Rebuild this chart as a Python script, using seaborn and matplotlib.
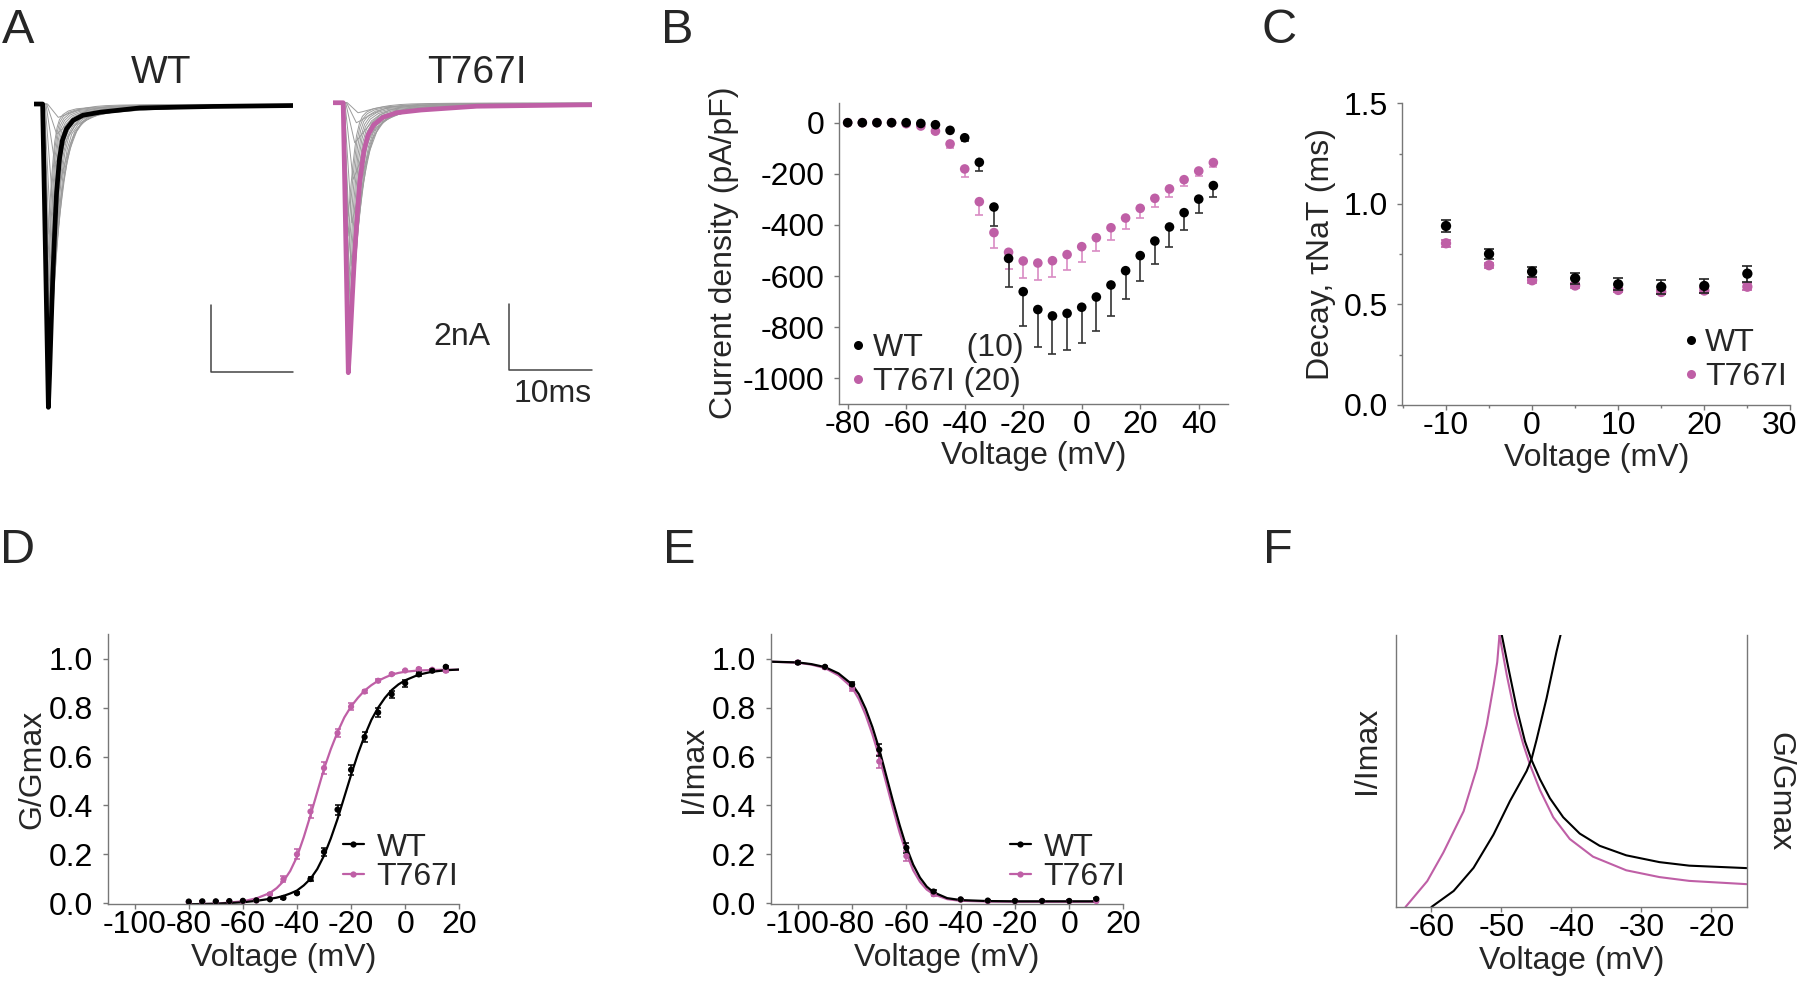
import numpy as np
import pandas as pd
import seaborn as sns
import matplotlib.pyplot as plt
from matplotlib.lines import Line2D
from matplotlib.ticker import AutoMinorLocator, FormatStrFormatter
from matplotlib.transforms import ScaledTranslation

sns.set_style("ticks")
plt.rcParams['font.family'] = ['Liberation Sans', 'DejaVu Sans']
plt.rcParams['axes.unicode_minus'] = False

PINK = '#BF5FA6'
PINK_ERR = '#D98BC4'
GREY = '#9c9c9c'
AXC = '#777777'
FS = 23

# ---------------- data ----------------
# A: current traces (ms, nA); decay profile
decay_t = [0, 0.15, 0.35, 0.55, 0.8, 1.0, 1.35, 1.7, 2.2, 3.0, 4.2, 6.3, 11.1, 20, 29.7]
decay_f = [1.0, 0.89, 0.72, 0.56, 0.40, 0.29, 0.18, 0.12, 0.082, 0.054, 0.037, 0.027, 0.013, 0.008, 0.005]

wt_main = [9.1, 1.0, 0.7, 1.0]          # peak, onset, rise, stretch
t767i_main = [8.1, 1.2, 0.62, 1.4]

wt_grey_peak = [0.4, 0.9, 1.8, 3.2, 4.6, 5.8, 6.8, 7.5, 8.0, 8.3, 8.4, 8.2, 7.8, 7.3, 6.7, 6.0, 5.3, 4.6, 3.9]
wt_grey_onset = [1.6, 1.5, 1.4, 1.3, 1.2, 1.15, 1.1, 1.1, 1.05, 1.05, 1.05, 1.05, 1.05, 1.05, 1.05, 1.05, 1.05, 1.05, 1.05]
wt_grey_rise = [1.3, 1.2, 1.1, 1.0, 0.95, 0.9, 0.85, 0.8, 0.78, 0.75, 0.72, 0.7, 0.7, 0.68, 0.66, 0.64, 0.62, 0.6, 0.6]
wt_grey_stretch = [3.4, 3.1, 2.8, 2.5, 2.2, 1.95, 1.75, 1.55, 1.4, 1.28, 1.18, 1.1, 1.04, 0.98, 0.94, 0.9, 0.87, 0.84, 0.82]

t767i_grey_peak = [0.3, 0.6, 1.2, 2.3, 3.6, 4.9, 6.0, 6.8, 7.3, 7.6, 7.7, 7.5, 7.1, 6.6, 6.0, 5.4, 4.7, 4.0, 3.4]
t767i_grey_onset = [1.7, 1.6, 1.5, 1.4, 1.3, 1.25, 1.2, 1.2, 1.2, 1.2, 1.2, 1.2, 1.2, 1.2, 1.2, 1.2, 1.2, 1.2, 1.2]
t767i_grey_rise = [1.3, 1.2, 1.1, 1.0, 0.95, 0.9, 0.85, 0.8, 0.78, 0.75, 0.72, 0.7, 0.7, 0.68, 0.66, 0.64, 0.62, 0.6, 0.6]
t767i_grey_stretch = [3.8, 3.5, 3.2, 2.9, 2.6, 2.3, 2.05, 1.85, 1.7, 1.55, 1.45, 1.38, 1.32, 1.26, 1.2, 1.15, 1.1, 1.06, 1.02]

# B: I-V
iv_v = [-80, -75, -70, -65, -60, -55, -50, -45, -40, -35, -30, -25, -20, -15, -10, -5, 0, 5, 10, 15, 20, 25, 30, 35, 40, 45]
iv_wt = [0, 0, 0, 0, 0, -3, -8, -30, -59, -155, -330, -531, -661, -731, -756, -746, -722, -682, -635, -579, -520, -463, -408, -352, -299, -246]
iv_wt_sem = [0, 0, 0, 0, 0, 2, 4, 6, 14, 34, 73, 112, 135, 146, 148, 143, 140, 132, 122, 111, 101, 89, 78, 67, 56, 45]
iv_t767i = [0, 0, 0, 0, -4, -13, -33, -83, -181, -309, -430, -507, -541, -549, -540, -516, -485, -450, -411, -373, -335, -296, -259, -223, -189, -156]
iv_t767i_sem = [0, 0, 0, 0, 1, 3, 6, 17, 33, 52, 59, 65, 68, 68, 65, 62, 59, 53, 48, 43, 39, 32, 30, 26, 20, 19]

# C: decay time constant
tau_v = [-10, -5, 0, 5, 10, 15, 20, 25]
tau_wt = [0.89, 0.751, 0.663, 0.63, 0.60, 0.587, 0.592, 0.653]
tau_wt_sem = [0.03, 0.023, 0.025, 0.028, 0.03, 0.035, 0.035, 0.04]
tau_t767i = [0.804, 0.695, 0.62, 0.594, 0.572, 0.562, 0.569, 0.588]
tau_t767i_sem = [0.018, 0.012, 0.012, 0.012, 0.012, 0.012, 0.012, 0.018]

# D: activation
gv_v = [-80, -75, -70, -65, -60, -55, -50, -45, -40, -35, -30, -25, -20, -15, -10, -5, 0, 5, 10, 15]
gv_wt = [0.007, 0.008, 0.008, 0.009, 0.01, 0.012, 0.016, 0.022, 0.041, 0.099, 0.21, 0.383, 0.546, 0.68, 0.78, 0.855, 0.90, 0.936, 0.951, 0.967]
gv_wt_sem = [0, 0, 0, 0, 0, 0, 0, 0.003, 0.005, 0.008, 0.015, 0.02, 0.02, 0.02, 0.018, 0.015, 0.015, 0.008, 0.006, 0.005]
gv_t767i = [0.005, 0.005, 0.006, 0.007, 0.008, 0.011, 0.037, 0.098, 0.2, 0.375, 0.553, 0.696, 0.804, 0.866, 0.91, 0.937, 0.952, 0.958, 0.955, 0.951]
gv_t767i_sem = [0, 0, 0, 0, 0, 0.002, 0.005, 0.012, 0.02, 0.025, 0.025, 0.015, 0.015, 0.008, 0.006, 0.005, 0.004, 0.004, 0.004, 0.004]
gfit_v = [-80, -70, -60, -55, -50, -47.5, -45, -42.5, -40, -37.5, -35, -32.5, -30, -27.5, -25, -22.5, -20, -17.5, -15, -12.5, -10, -7.5, -5, -2.5, 0, 5, 10, 15, 20]
gfit_wt = [-0.004, -0.002, 0.004, 0.01, 0.018, 0.023, 0.03, 0.04, 0.052, 0.073, 0.1, 0.14, 0.195, 0.265, 0.345, 0.435, 0.525, 0.61, 0.685, 0.75, 0.80, 0.84, 0.872, 0.895, 0.912, 0.935, 0.947, 0.953, 0.956]
gfit_t767i = [-0.004, -0.002, 0.008, 0.02, 0.042, 0.062, 0.09, 0.132, 0.19, 0.27, 0.36, 0.455, 0.55, 0.63, 0.70, 0.76, 0.805, 0.84, 0.87, 0.892, 0.91, 0.923, 0.935, 0.942, 0.947, 0.952, 0.954, 0.955, 0.955]

# E: steady-state inactivation
ss_v = [-100, -90, -80, -70, -60, -50, -40, -30, -20, -10, 0, 10]
ss_wt = [0.984, 0.967, 0.895, 0.628, 0.227, 0.048, 0.016, 0.011, 0.0095, 0.0095, 0.0095, 0.018]
ss_wt_sem = [0.005, 0.005, 0.008, 0.025, 0.02, 0.005, 0.003, 0.002, 0.002, 0.002, 0.002, 0.003]
ss_t767i = [0.985, 0.965, 0.879, 0.58, 0.193, 0.037, 0.014, 0.008, 0.008, 0.008, 0.008, 0.009]
ss_t767i_sem = [0.005, 0.005, 0.01, 0.025, 0.02, 0.006, 0.003, 0.002, 0.002, 0.002, 0.002, 0.002]
sfit_v = [-110, -100, -95, -90, -85, -80, -77.5, -75, -72.5, -70, -67.5, -65, -62.5, -60, -57.5, -55, -52.5, -50, -45, -40, -30, -20, -10, 0, 10]
sfit_wt = [0.988, 0.985, 0.978, 0.966, 0.94, 0.895, 0.855, 0.795, 0.72, 0.63, 0.525, 0.42, 0.32, 0.23, 0.158, 0.105, 0.068, 0.045, 0.021, 0.013, 0.009, 0.008, 0.008, 0.008, 0.008]
sfit_t767i = [0.988, 0.984, 0.976, 0.962, 0.932, 0.882, 0.835, 0.77, 0.69, 0.60, 0.495, 0.39, 0.29, 0.205, 0.135, 0.088, 0.056, 0.037, 0.017, 0.01, 0.007, 0.006, 0.006, 0.006, 0.006]

# F: window current overlap (relative units, top of axis = 1)
f_wt_g_v = [-60, -56.82, -53.98, -51.14, -48.77, -46.4, -45.69, -44.98, -43.55, -42.13, -41.56]
f_wt_g = [0, 0.059, 0.144, 0.266, 0.39, 0.5, 0.545, 0.615, 0.768, 0.939, 1.0]
f_t767i_g_v = [-63.7, -60.6, -58.3, -55.4, -53.5, -52.1, -51.1, -50.6, -50.28]
f_t767i_g = [0, 0.095, 0.2, 0.352, 0.511, 0.67, 0.817, 0.9, 1.0]
f_wt_i_v = [-49.95, -49.0, -47.82, -46.64, -45.69, -44.5, -43.08, -41.18, -38.82, -35.97, -32.18, -27.44, -23.18, -15]
f_wt_i = [1.0, 0.878, 0.731, 0.609, 0.54, 0.47, 0.40, 0.33, 0.27, 0.225, 0.19, 0.165, 0.152, 0.143]
f_t767i_i_v = [-50.28, -49.24, -48.06, -46.87, -45.92, -44.5, -42.6, -40.24, -36.92, -32.18, -27.44, -23.18, -15]
f_t767i_i = [1.0, 0.853, 0.707, 0.597, 0.523, 0.43, 0.33, 0.25, 0.185, 0.135, 0.11, 0.096, 0.084]


def traces(peaks, onsets, rises, stretches):
    rows = []
    for k, (p, o, r, s) in enumerate(zip(peaks, onsets, rises, stretches)):
        t = [0, o] + [o + r + d * s for d in decay_t]
        i = [0, 0] + [-p * f for f in decay_f]
        rows.append(pd.DataFrame({'t': t, 'i': i, 'trace': k}))
    return pd.concat(rows, ignore_index=True)


def style(ax):
    sns.despine(ax=ax)
    for s in ['left', 'bottom']:
        ax.spines[s].set_color(AXC)
        ax.spines[s].set_linewidth(1.0)
    ax.tick_params(colors=AXC, labelcolor='black', labelsize=FS, length=3.5, width=1.0)
    ax.tick_params(axis='y', pad=7)
    ax.tick_params(axis='x', pad=1)


fig = plt.figure(figsize=(17.98, 9.9), dpi=100)

# ---------------- A ----------------
for pos, grey, main, col, title, tx, bar_x, label in [
        ([0.01913, 0.5717, 0.14372, 0.34343], (wt_grey_peak, wt_grey_onset, wt_grey_rise, wt_grey_stretch), wt_main, 'black', 'WT', 160.7, 21.4, False),
        ([0.18537, 0.5730, 0.14388, 0.34343], (t767i_grey_peak, t767i_grey_onset, t767i_grey_rise, t767i_grey_stretch), t767i_main, PINK, 'T767I', 476.5, 21.35, True)]:
    ax = fig.add_axes(pos)
    sns.lineplot(data=traces(*grey), x='t', y='i', units='trace', estimator=None, sort=False,
                 color=GREY, lw=0.7, ax=ax, legend=False)
    sns.lineplot(data=traces([main[0]], [main[1]], [main[2]], [main[3]]), x='t', y='i', estimator=None,
                 sort=False, color=col, lw=3.4, ax=ax, legend=False)
    ax.plot([bar_x, bar_x, 31.4], [-6.03, -8.03, -8.03], color='#444444', lw=1.1, clip_on=False)
    if label:
        ax.text(bar_x - 2.3, -7.03, '2nA', ha='right', va='center', fontsize=FS)
        ax.text(26.6, -8.75, '10ms', ha='center', va='center', fontsize=FS)
    ax.set_xlim(0, 31.4)
    ax.set_ylim(-9.6, 0.6)
    ax.axis('off')
    fig.text(tx / 1798, 1 - 83 / 990, title, ha='center', va='baseline', fontsize=28)

# ---------------- B ----------------
axB = fig.add_axes([0.46674, 0.59242, 0.21607, 0.30384])
axB.errorbar(iv_v, iv_t767i, yerr=[iv_t767i_sem, [0] * len(iv_v)], fmt='none', ecolor=PINK_ERR,
             elinewidth=1.2, capsize=2.8, capthick=1.2, zorder=2)
sns.scatterplot(x=iv_v, y=iv_t767i, color=PINK, s=48, edgecolor='none', ax=axB, zorder=3)
axB.errorbar(iv_v, iv_wt, yerr=[iv_wt_sem, [0] * len(iv_v)], fmt='none', ecolor='#333333',
             elinewidth=1.2, capsize=2.8, capthick=1.2, zorder=4)
sns.scatterplot(x=iv_v, y=iv_wt, color='black', s=48, edgecolor='none', ax=axB, zorder=5)
axB.set_xlim(-82.9, 49.9)
axB.set_ylim(-1098.6, 78.2)
axB.set_xticks([-80, -60, -40, -20, 0, 20, 40])
axB.set_yticks([0, -200, -400, -600, -800, -1000])
style(axB)
axB.set_xlabel('Voltage (mV)', fontsize=FS, labelpad=1)
axB.set_ylabel('Current density (pA/pF)', fontsize=FS, labelpad=3)
hB = [Line2D([0], [0], ls='none', marker='o', color=c, ms=6.5, mec='none') for c in ['black', PINK]]
axB.legend(hB, ['WT' + ' ' * 5 + '(10)', 'T767I (20)'], loc='center left', bbox_to_anchor=(0.023, 0.128),
           frameon=False, fontsize=FS, handlelength=0.6, handletextpad=0.17, labelspacing=0.12,
           borderpad=0, borderaxespad=0)

# ---------------- C ----------------
axC = fig.add_axes([0.77981, 0.59091, 0.21596, 0.30475])
axC.errorbar(tau_v, tau_t767i, yerr=tau_t767i_sem, fmt='none', ecolor=PINK, elinewidth=1.2,
             capsize=3.4, capthick=1.2, zorder=2)
sns.scatterplot(x=tau_v, y=tau_t767i, color=PINK, s=55, edgecolor='none', ax=axC, zorder=3)
axC.errorbar(tau_v, tau_wt, yerr=tau_wt_sem, fmt='none', ecolor='#222222', elinewidth=1.2,
             capsize=3.4, capthick=1.2, zorder=4)
sns.scatterplot(x=tau_v, y=tau_wt, color='black', s=55, edgecolor='none', ax=axC, zorder=5)
axC.set_xlim(-15.1, 30)
axC.set_ylim(0, 1.5)
axC.set_xticks([-10, 0, 10, 20, 30])
axC.set_yticks([0, 0.5, 1.0, 1.5])
axC.yaxis.set_major_formatter(FormatStrFormatter('%.1f'))
axC.xaxis.set_minor_locator(AutoMinorLocator(2))
axC.yaxis.set_minor_locator(AutoMinorLocator(2))
style(axC)
axC.tick_params(which='minor', colors=AXC, length=2.5, width=1.0)
axC.set_xlabel('Voltage (mV)', fontsize=FS, labelpad=1)
axC.set_ylabel('Decay, τNaT (ms)', fontsize=FS, labelpad=5)
axC.legend(hB, ['WT', 'T767I'], loc='center left', bbox_to_anchor=(0.719, 0.149), frameon=False,
           fontsize=FS, handlelength=0.6, handletextpad=0.14, labelspacing=0.12, borderpad=0,
           borderaxespad=0)
# keep the last x label inside the canvas
last = axC.get_xticklabels()[-1]
last.set_transform(last.get_transform() + ScaledTranslation(-0.11, 0, fig.dpi_scale_trans))

# ---------------- D / E ----------------
def boltz_panel(pos, pv, pwt, pwt_sem, pt7, pt7_sem, fv, fwt, ft7, ylab, legx, ylpad):
    ax = fig.add_axes(pos)
    sns.lineplot(x=fv, y=ft7, color=PINK, lw=1.6, ax=ax, estimator=None, sort=False)
    ax.errorbar(pv, pt7, yerr=pt7_sem, fmt='none', ecolor=PINK, elinewidth=1.1, capsize=2.2, capthick=1.1)
    sns.scatterplot(x=pv, y=pt7, color=PINK, s=20, edgecolor='none', ax=ax, zorder=3)
    sns.lineplot(x=fv, y=fwt, color='black', lw=1.6, ax=ax, estimator=None, sort=False)
    ax.errorbar(pv, pwt, yerr=pwt_sem, fmt='none', ecolor='black', elinewidth=1.1, capsize=2.2, capthick=1.1)
    sns.scatterplot(x=pv, y=pwt, color='black', s=20, edgecolor='none', ax=ax, zorder=5)
    ax.set_xlim(-110, 20)
    ax.set_ylim(-0.003, 1.1)
    ax.set_xticks([-100, -80, -60, -40, -20, 0, 20])
    ax.set_yticks([0, 0.2, 0.4, 0.6, 0.8, 1.0])
    ax.yaxis.set_major_formatter(FormatStrFormatter('%.1f'))
    style(ax)
    ax.set_xlabel('Voltage (mV)', fontsize=FS, labelpad=2)
    ax.set_ylabel(ylab, fontsize=FS, labelpad=ylpad)
    h = [Line2D([0], [0], color=c, lw=1.6, marker='o', ms=4.5, mec='none') for c in ['black', PINK]]
    ax.legend(h, ['WT', 'T767I'], loc='center left', bbox_to_anchor=(legx, 0.155), frameon=False,
              fontsize=FS, handlelength=0.66, handletextpad=0.4, labelspacing=-0.03, borderpad=0,
              borderaxespad=0)
    return ax


boltz_panel([0.05984, 0.08687, 0.19561, 0.27242], gv_v, gv_wt, gv_wt_sem, gv_t767i, gv_t767i_sem,
            gfit_v, gfit_wt, gfit_t767i, 'G/Gmax', 0.669, 1)
boltz_panel([0.42864, 0.08687, 0.19622, 0.27242], ss_v, ss_wt, ss_wt_sem, ss_t767i, ss_t767i_sem,
            sfit_v, sfit_wt, sfit_t767i, 'I/Imax', 0.677, 2)

# ---------------- F ----------------
axF = fig.add_axes([0.77664, 0.08384, 0.19472, 0.27475])
for xv, yv, c in [(f_t767i_g_v, f_t767i_g, PINK), (f_t767i_i_v, f_t767i_i, PINK),
                  (f_wt_g_v, f_wt_g, 'black'), (f_wt_i_v, f_wt_i, 'black')]:
    sns.lineplot(x=xv, y=yv, color=c, lw=1.5, ax=axF, estimator=None, sort=False)
axF.set_xlim(-65, -15)
axF.set_ylim(0, 1)
axF.set_xticks([-60, -50, -40, -30, -20])
axF.set_yticks([])
style(axF)
axF.spines['right'].set_visible(True)
axF.spines['right'].set_color(AXC)
axF.spines['right'].set_linewidth(1.0)
axF.set_xlabel('Voltage (mV)', fontsize=FS, labelpad=2)
axF.set_ylabel('I/Imax', fontsize=FS)
axF.yaxis.set_label_coords(-0.041, 0.577)
axF2 = axF.twinx()
axF2.set_yticks([])
for s in axF2.spines.values():
    s.set_visible(False)
axF2.set_ylabel('G/Gmax', fontsize=FS, rotation=270, va='bottom')
axF2.yaxis.set_label_coords(1.051, 0.424)

# panel letters
for letter, x, y in [('A', 2, 43), ('B', 661, 43), ('C', 1261, 43),
                     ('D', 0, 563), ('E', 663, 563), ('F', 1263, 563)]:
    fig.text(x / 1798, 1 - y / 990, letter, fontsize=35, ha='left', va='baseline')

fig.savefig('out.png', dpi=100)
